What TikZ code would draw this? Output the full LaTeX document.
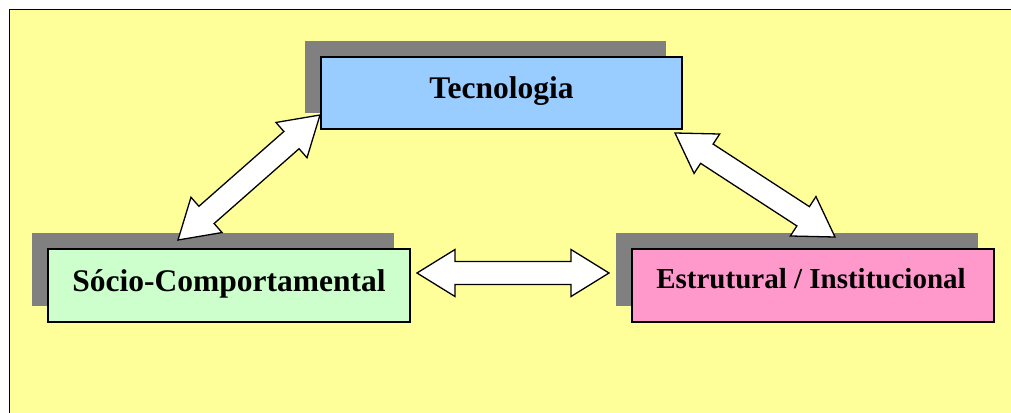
\documentclass[tikz,border=0pt]{standalone}
\usepackage{fontspec}
\setmainfont{Liberation Serif}
\usetikzlibrary{calc}
\definecolor{bgY}{HTML}{FFFF99}
\definecolor{shadowG}{HTML}{808080}
\definecolor{tecC}{HTML}{99CCFF}
\definecolor{socC}{HTML}{CCFFCC}
\definecolor{estC}{HTML}{FF99CC}
\tikzset{
  boxshape/.style={draw=black, line width=1.3pt, minimum width=362pt, minimum height=73pt, inner sep=0pt},
  shadowbox/.style={fill=shadowG, minimum width=362pt, minimum height=73pt, inner sep=0pt},
  lbl/.style={font=\bfseries, anchor=base, inner sep=0pt},
  barrow/.style={draw=black, fill=white, line width=1.3pt, line join=miter},
}
\newcommand\blockarrow[2]{%
  \coordinate (#1-h) at ($(#1)!38pt!(#2)$);
  \coordinate (#2-h) at ($(#2)!38pt!(#1)$);
  \draw[barrow] (#1) -- ($(#1-h)!23.5pt!90:(#2)$) -- ($(#1-h)!11.5pt!90:(#2)$)
    -- ($(#2-h)!11.5pt!-90:(#1)$) -- ($(#2-h)!23.5pt!-90:(#1)$) -- (#2)
    -- ($(#2-h)!23.5pt!90:(#1)$) -- ($(#2-h)!11.5pt!90:(#1)$)
    -- ($(#1-h)!11.5pt!-90:(#2)$) -- ($(#1-h)!23.5pt!-90:(#2)$) -- cycle;}
\begin{document}
\begin{tikzpicture}[x=1pt,y=-1pt]
\useasboundingbox (0,0) rectangle (1011,412);
\clip (0,0) rectangle (1011,412);
% background panel
\draw[fill=bgY, line width=1.5pt] (9.5,9.5) rectangle (1040,440);
% shadows
\node[shadowbox, minimum width=361pt, minimum height=72pt] (tecS) at (485.5,77) {};
\node[shadowbox] (socS) at (213,269.5) {};
\node[shadowbox] (estS) at (797,269.5) {};
% boxes
\node[boxshape, fill=tecC, minimum width=361pt, minimum height=72pt] (tec) at (501.5,93) {};
\node[boxshape, fill=socC] (soc) at (229,285.5) {};
\node[boxshape, fill=estC] (est) at (813,285.5) {};
% labels
\node[lbl, font=\fontsize{31.5}{36}\selectfont\bfseries] (tecL) at (501.5,98.3) {Tecnologia};
\node[lbl, font=\fontsize{31.5}{36}\selectfont\bfseries] (socL) at (229,291.7) {Sócio-Comportamental};
\node[lbl, font=\fontsize{29}{34}\selectfont\bfseries] (estL) at (811,288.3) {Estrutural / Institucional};
% arrow end points
\coordinate (a1) at (320,115);
\coordinate (a2) at (178,240);
\coordinate (b1) at (675,133);
\coordinate (b2) at (835,237);
\coordinate (c1) at (417,273);
\coordinate (c2) at (609,273);
\blockarrow{a1}{a2}
\blockarrow{b1}{b2}
\blockarrow{c1}{c2}
\end{tikzpicture}
\end{document}
